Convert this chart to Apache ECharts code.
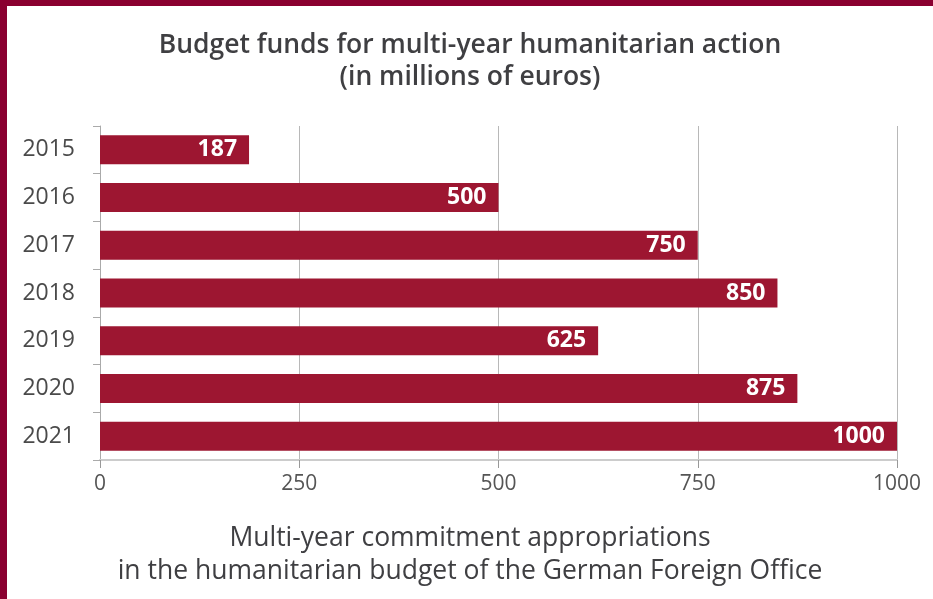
<!DOCTYPE html>
<html>
<head>
<meta charset="utf-8">
<script src="https://cdn.jsdelivr.net/npm/echarts@6/dist/echarts.min.js"></script>
<style>
  html, body { margin: 0; padding: 0; background: #ffffff; }
  #frame { position: relative; width: 933px; height: 599px; background: #8a0030; }
  #chart { position: absolute; left: 7px; top: 6px; width: 926px; height: 593px; background: #ffffff; }
</style>
</head>
<body>
<div id="frame"><div id="chart"></div></div>
<script>
// Multi-year humanitarian budget funds, millions of euros
const years = ['2015', '2016', '2017', '2018', '2019', '2020', '2021'];
const funds = [187, 500, 750, 850, 625, 875, 1000];
const xTicks = [0, 250, 500, 750, 1000];

const chart = echarts.init(document.getElementById('chart'));
const font = '"Open Sans", "Noto Sans", sans-serif';

chart.setOption({
  animation: false,
  textStyle: { fontFamily: font },
  title: [
    {
      text: 'Budget funds for multi-year humanitarian action\n(in millions of euros)',
      left: 'center',
      top: 18,
      textStyle: { fontFamily: font, fontSize: 26.5, fontWeight: 600, color: '#3f3f42', lineHeight: 32 }
    },
    {
      text: 'Multi-year commitment appropriations\nin the humanitarian budget of the German Foreign Office',
      left: 'center',
      top: 511,
      textStyle: { fontFamily: font, fontSize: 26.5, fontWeight: 400, color: '#3f3f42', lineHeight: 33 }
    }
  ],
  grid: { left: 93, right: 36, top: 120, bottom: 139 },
  xAxis: {
    type: 'value',
    min: 0,
    max: 1000,
    interval: 250,
    axisLine: { show: true, lineStyle: { color: '#cccccc', width: 2 } },
    axisTick: { show: true, length: 8, lineStyle: { color: '#999999' } },
    axisLabel: {
      color: '#555555', fontSize: 21, margin: 14,
      formatter: v => (xTicks.indexOf(v) >= 0 ? String(v) : '')
    },
    splitLine: { show: true, lineStyle: { color: '#b8b8b8', width: 1 } }
  },
  yAxis: {
    type: 'category',
    data: years,
    inverse: true,
    axisLine: { show: true, lineStyle: { color: '#aaaaaa', width: 1 } },
    axisTick: { show: true, length: 7, lineStyle: { color: '#aaaaaa' } },
    axisLabel: { color: '#4a4a4a', fontSize: 23, margin: 25 }
  },
  series: [{
    type: 'bar',
    data: funds,
    barWidth: 29,
    itemStyle: { color: '#9d1631' },
    label: {
      show: true,
      position: 'insideRight',
      distance: 12,
      color: '#ffffff',
      fontFamily: font,
      fontWeight: 700,
      fontSize: 23
    }
  }]
});
</script>
</body>
</html>
